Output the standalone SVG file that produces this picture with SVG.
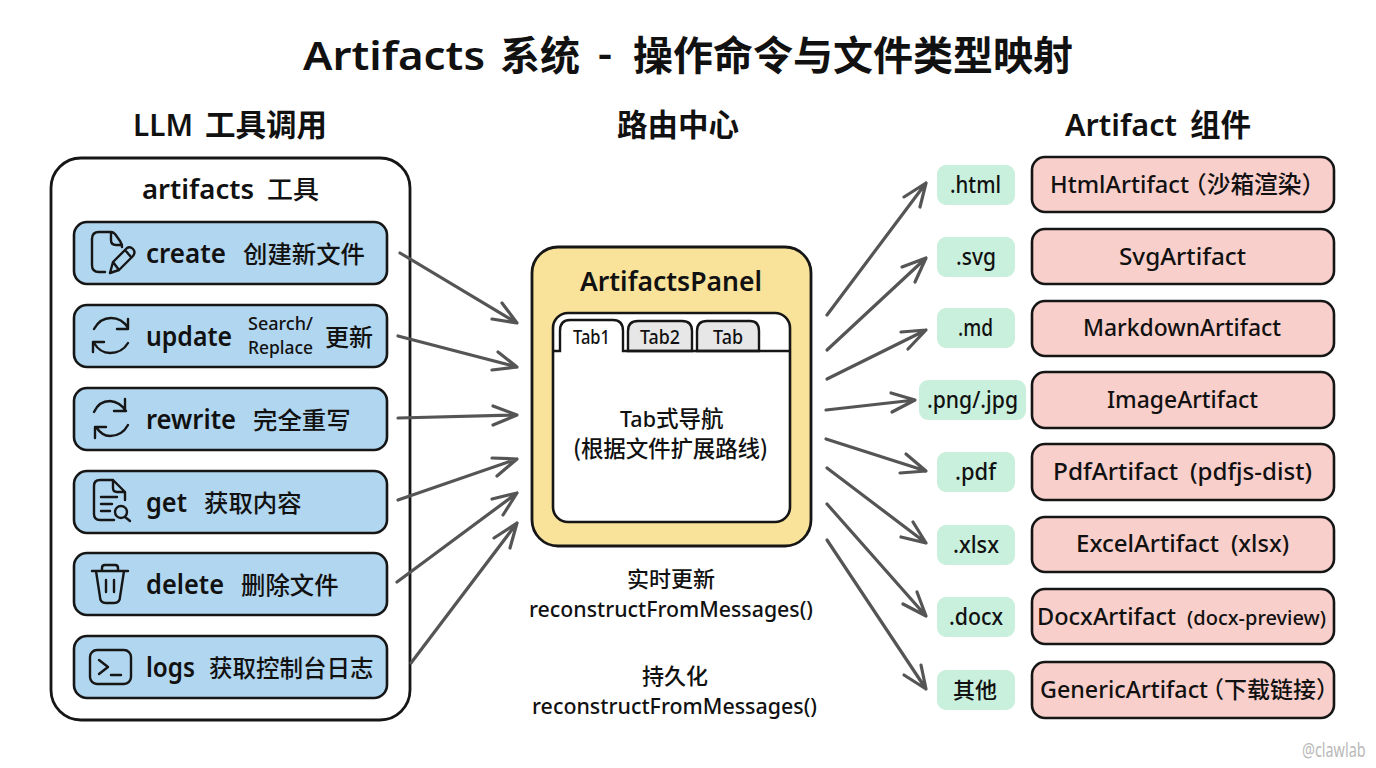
<svg xmlns="http://www.w3.org/2000/svg" width="1376" height="768" viewBox="0 0 1376 768">
<style>
text{font-family:"Noto Sans","Noto Sans CJK SC",sans-serif;fill:#111;font-weight:500}
.z{font-family:"Noto Sans CJK SC",sans-serif}
.b{font-weight:700}
.s{font-weight:600}
.m{text-anchor:middle}
.row{fill:#b1d6ef;stroke:#161616;stroke-width:2.6}
.ic{fill:none;stroke:#161616;stroke-width:2.4;stroke-linecap:round;stroke-linejoin:round}
.g{fill:#c9f0dc}
.p{fill:#f9cfcb;stroke:#161616;stroke-width:2.6}
.con path{fill:none;stroke:#555;stroke-width:3.2;stroke-linecap:round;stroke-linejoin:round}
</style>
<rect width="1376" height="768" fill="#fff"/>
<g id="title">
<text class="s" x="303" y="70" font-size="40" textLength="182" lengthAdjust="spacingAndGlyphs">Artifacts</text>
<text class="z b" x="500" y="70" font-size="40">系统</text>
<text class="s" x="598" y="68" font-size="40" textLength="14" lengthAdjust="spacingAndGlyphs">-</text>
<text class="z b" x="633" y="70" font-size="40">操作命令与文件类型映射</text>
</g>
<text class="s" x="133" y="136" font-size="30" textLength="60" lengthAdjust="spacingAndGlyphs">LLM</text><text class="z b" x="205" y="136" font-size="30.5">工具调用</text>
<text class="z b" x="617" y="136" font-size="30.5">路由中心</text>
<text class="s" x="1065" y="136" font-size="30" textLength="112" lengthAdjust="spacingAndGlyphs">Artifact</text><text class="z b" x="1190" y="136" font-size="30.5">组件</text>

<g id="tools">
<rect x="51" y="158" width="359" height="562" rx="30" fill="#fff" stroke="#161616" stroke-width="2.8"/>
<text class="s" x="142" y="199" font-size="27" textLength="112" lengthAdjust="spacingAndGlyphs">artifacts</text><text class="z" x="267" y="199" font-size="26">工具</text>
</g>
<g id="create"><rect class="row" x="74" y="222" width="313" height="62" rx="13"/>
<path class="ic" d="M111 232H99Q92 232 92 239V265Q92 272 99 272H105M111 232Q113 232 115 234L120 241Q122 244 122 247M111 232V240Q111 245 116 245H122"/>
<path class="ic" d="M110 273L113 262L127 248Q130 246 133 249Q136 252 133 256L119 270ZM113 262L119 270M125 250L131 257"/>
<text class="s" x="146" y="263" font-size="27" textLength="80" lengthAdjust="spacingAndGlyphs">create</text><text class="z" x="243" y="263" font-size="24.4">创建新文件</text></g>
<g id="update"><rect class="row" x="74" y="305" width="313" height="62" rx="13"/>
<path class="ic" d="M94 329Q100 318 111 318Q122 318 128 328M128 319V329H117M128 343Q122 353 110 353Q100 353 94 343M93 352V342H104"/>
<text class="s" x="146" y="346" font-size="27" textLength="86" lengthAdjust="spacingAndGlyphs">update</text><text x="248" y="330" font-size="18" textLength="65" lengthAdjust="spacingAndGlyphs">Search/</text><text x="248" y="354" font-size="18" textLength="65" lengthAdjust="spacingAndGlyphs">Replace</text><text class="z" x="325" y="346" font-size="24">更新</text></g>
<g id="rewrite"><rect class="row" x="74" y="388" width="313" height="62" rx="13"/>
<path class="ic" d="M94 412Q99 401 110 401Q120 402 126 411M125 399V411H114M128 425Q122 436 110 436Q102 436 96 427M95 438V427H106"/>
<text class="s" x="146" y="429" font-size="27" textLength="90" lengthAdjust="spacingAndGlyphs">rewrite</text><text class="z" x="253" y="429" font-size="24.4">完全重写</text></g>
<g id="get"><rect class="row" x="74" y="471" width="313" height="62" rx="13"/>
<path class="ic" d="M113 480H100Q94 480 94 486V514Q94 520 100 520H114M113 480L125 492V500M113 480V488Q113 492 117 492H125M101 497H117M101 504H112M101 511H110"/>
<circle class="ic" cx="121" cy="512" r="6"/><path class="ic" d="M125 517L130 521"/>
<text class="s" x="146" y="512" font-size="27" textLength="41" lengthAdjust="spacingAndGlyphs">get</text><text class="z" x="204" y="512" font-size="24.4">获取内容</text></g>
<g id="delete"><rect class="row" x="74" y="553" width="313" height="62" rx="13"/>
<path class="ic" d="M92 571H128M102 571V568Q102 565 105 565H115Q118 565 118 568V571M96 571L100 597Q100 603 106 603H114Q120 603 120 597L124 571M106 580V592M114 580V592"/>
<text class="s" x="146" y="594" font-size="27" textLength="78" lengthAdjust="spacingAndGlyphs">delete</text><text class="z" x="241" y="594" font-size="24.4">删除文件</text></g>
<g id="logs"><rect class="row" x="74" y="636" width="313" height="62" rx="13"/>
<rect class="ic" x="90" y="650" width="41" height="34" rx="7"/><path class="ic" d="M99 660L108 667L99 674M111 675H121"/>
<text class="s" x="146" y="677" font-size="27" textLength="49" lengthAdjust="spacingAndGlyphs">logs</text><text class="z" x="209" y="677" font-size="23.5">获取控制台日志</text></g>

<g id="panel">
<rect x="532" y="247" width="279" height="299" rx="26" fill="#f9e39b" stroke="#161616" stroke-width="2.8"/>
<text class="s" x="580" y="291" font-size="27" textLength="182" lengthAdjust="spacingAndGlyphs">ArtifactsPanel</text>
<rect x="553" y="313" width="237" height="209" rx="15" fill="#fff" stroke="#161616" stroke-width="2.6"/>
<path d="M628 351V331Q628 321 638 321H682Q692 321 692 331V351Z" fill="#e7e7e7" stroke="#161616" stroke-width="2.4"/>
<path d="M697 351V331Q697 321 707 321H750Q759 321 759 331V351Z" fill="#e7e7e7" stroke="#161616" stroke-width="2.4"/>
<path d="M553 351H560V331Q560 320 570 320H613Q623 320 623 331V351H790" fill="#fff" stroke="#161616" stroke-width="2.4"/>
<text x="573" y="344" font-size="20" textLength="37" lengthAdjust="spacingAndGlyphs">Tab1</text>
<text x="640" y="344" font-size="20" textLength="40" lengthAdjust="spacingAndGlyphs">Tab2</text>
<text x="713" y="344" font-size="20" textLength="30" lengthAdjust="spacingAndGlyphs">Tab</text>
<text x="620" y="427" font-size="22" textLength="36" lengthAdjust="spacingAndGlyphs">Tab</text><text class="z" x="656" y="427" font-size="22.5">式导航</text>
<text class="z" x="573" y="457" font-size="22.5" textLength="195" lengthAdjust="spacing">(根据文件扩展路线)</text>
</g>
<g id="notes">
<text class="z m" x="671" y="587" font-size="22">实时更新</text>
<text x="529" y="617" font-size="22" textLength="284" lengthAdjust="spacingAndGlyphs">reconstructFromMessages()</text>
<text class="z m" x="675" y="684" font-size="22">持久化</text>
<text x="532" y="714" font-size="22" textLength="285" lengthAdjust="spacingAndGlyphs">reconstructFromMessages()</text>
</g>

<g class="con" id="connectors">
<path d="M400 253L517 323M492 319L517 323L502 303"/>
<path d="M398 336L517 367M492 370L517 367L498 352"/>
<path d="M398 418L517 415M493 406L517 415L493 425"/>
<path d="M398 500L517 459M492 458L517 459L497 476"/>
<path d="M397 582L517 493M492 499L517 493L503 515"/>
<path d="M411 663L517 523M494 538L517 523L510 548"/>
<path d="M827 315L926 183M904 197L926 183L920 207"/>
<path d="M827 350L926 258M902 267L926 258L915 282"/>
<path d="M827 379L926 330M901 332L926 330L908 349"/>
<path d="M826 410L915 400M891 393L915 400L892 412"/>
<path d="M826 439L926 471M906 454L926 471L900 473"/>
<path d="M827 468L926 543M913 522L926 543L901 537"/>
<path d="M827 504L926 616M917 592L926 616L903 604"/>
<path d="M827 540L926 689M921 665L926 689L904 675"/>
</g>

<g id="ext">
<rect class="g" x="937" y="165" width="78" height="40" rx="9"/><text x="950" y="193" font-size="23" textLength="51" lengthAdjust="spacingAndGlyphs">.html</text>
<rect class="g" x="937" y="237" width="78" height="40" rx="9"/><text x="956" y="265" font-size="23" textLength="40" lengthAdjust="spacingAndGlyphs">.svg</text>
<rect class="g" x="937" y="308" width="78" height="40" rx="9"/><text x="958" y="336" font-size="23" textLength="35" lengthAdjust="spacingAndGlyphs">.md</text>
<rect class="g" x="919" y="380" width="107" height="40" rx="9"/><text x="927" y="408" font-size="23" textLength="91" lengthAdjust="spacingAndGlyphs">.png/.jpg</text>
<rect class="g" x="937" y="452" width="78" height="40" rx="9"/><text x="955" y="480" font-size="23" textLength="41" lengthAdjust="spacingAndGlyphs">.pdf</text>
<rect class="g" x="937" y="525" width="78" height="40" rx="9"/><text x="953" y="553" font-size="23" textLength="46" lengthAdjust="spacingAndGlyphs">.xlsx</text>
<rect class="g" x="937" y="597" width="78" height="40" rx="9"/><text x="949" y="625" font-size="23" textLength="54" lengthAdjust="spacingAndGlyphs">.docx</text>
<rect class="g" x="937" y="670" width="78" height="40" rx="9"/><text class="z" x="953" y="698" font-size="22">其他</text>
</g>
<g id="html"><rect class="p" x="1032" y="157" width="302" height="55" rx="13"/><text x="1050" y="193" font-size="24" textLength="139" lengthAdjust="spacingAndGlyphs">HtmlArtifact</text><text class="z" x="1183" y="193" font-size="23.7">（沙箱渲染）</text></g>
<g id="svg"><rect class="p" x="1032" y="229" width="302" height="55" rx="13"/><text x="1119" y="265" font-size="24" textLength="127" lengthAdjust="spacingAndGlyphs">SvgArtifact</text></g>
<g id="md"><rect class="p" x="1032" y="301" width="302" height="55" rx="13"/><text x="1083" y="336" font-size="24" textLength="198" lengthAdjust="spacingAndGlyphs">MarkdownArtifact</text></g>
<g id="img"><rect class="p" x="1032" y="372" width="302" height="56" rx="13"/><text x="1107" y="408" font-size="24" textLength="151" lengthAdjust="spacingAndGlyphs">ImageArtifact</text></g>
<g id="pdf"><rect class="p" x="1032" y="444" width="302" height="56" rx="13"/><text x="1053" y="480" font-size="24" textLength="125" lengthAdjust="spacingAndGlyphs">PdfArtifact</text><text x="1190" y="480" font-size="23" textLength="122" lengthAdjust="spacingAndGlyphs">(pdfjs-dist)</text></g>
<g id="xlsx"><rect class="p" x="1032" y="517" width="302" height="55" rx="13"/><text x="1076" y="552" font-size="24" textLength="143" lengthAdjust="spacingAndGlyphs">ExcelArtifact</text><text x="1231" y="552" font-size="24" textLength="58" lengthAdjust="spacingAndGlyphs">(xlsx)</text></g>
<g id="docx"><rect class="p" x="1032" y="589" width="302" height="55" rx="13"/><text x="1037" y="625" font-size="24" textLength="139" lengthAdjust="spacingAndGlyphs">DocxArtifact</text><text x="1187" y="625" font-size="20" textLength="139" lengthAdjust="spacingAndGlyphs">(docx-preview)</text></g>
<g id="generic"><rect class="p" x="1032" y="662" width="302" height="56" rx="13"/><text x="1040" y="698" font-size="24" textLength="168" lengthAdjust="spacingAndGlyphs">GenericArtifact</text><text class="z" x="1201" y="698" font-size="23">（下载链接）</text></g>
<text transform="translate(1302 757) scale(.72 1)" font-size="20" style="fill:#b9b9b9;font-weight:400">@clawlab</text>
</svg>
